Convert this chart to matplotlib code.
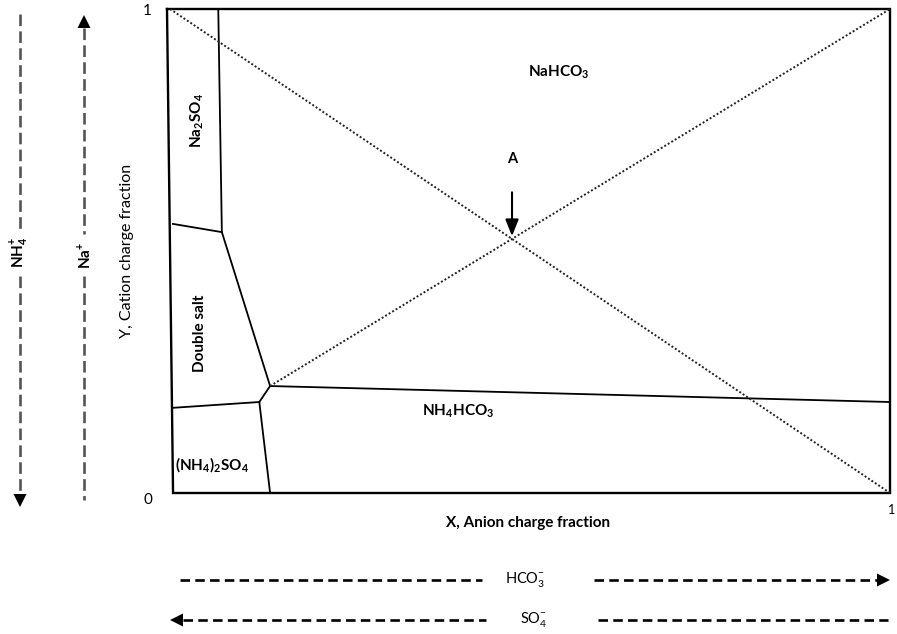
import matplotlib
matplotlib.use("Agg")
import matplotlib.pyplot as plt

plt.rcParams['font.family'] = ['Lato', 'DejaVu Sans']

# Phase boundary polylines (X = anion charge fraction, Y = cation charge fraction)
na2so4_x = [0.067, 0.072, 0.139]
na2so4_y = [1.000, 0.539, 0.221]
left_upper_x = [0.004, 0.072]
left_upper_y = [0.556, 0.539]
double_x = [0.139, 0.124, 0.139]
double_y = [0.221, 0.188, 0.000]
left_lower_x = [0.004, 0.124]
left_lower_y = [0.176, 0.188]
nh4hco3_x = [0.139, 1.000]
nh4hco3_y = [0.221, 0.188]
# Dotted operating lines
diag1_x = [0.0, 1.0]
diag1_y = [1.0, 0.0]
diag2_x = [0.139, 1.0]
diag2_y = [0.221, 1.0]
point_a = (0.475, 0.525)

fig = plt.figure(figsize=(8.97, 6.34), dpi=100)
W, H = 897, 634
ax = fig.add_axes([167 / W, 1 - 493 / H, (890 - 167) / W, (493 - 9) / H])
ax.set_xlim(-0.0042, 1.0)
ax.set_ylim(0, 1)
for s in ax.spines.values():
    s.set_visible(False)
ax.set_xticks([])
ax.set_yticks([])

# Frame
frame_x = [-0.0042, 1.0, 1.0, 0.0042, -0.0042]
frame_y = [1.0, 1.0, 0.0, 0.0, 1.0]
ax.plot(frame_x, frame_y, color='black', lw=1.7, clip_on=False, solid_joinstyle='miter')

lw = 1.3
for xs, ys in [(na2so4_x, na2so4_y), (left_upper_x, left_upper_y), (double_x, double_y),
               (left_lower_x, left_lower_y), (nh4hco3_x, nh4hco3_y)]:
    ax.plot(xs, ys, color='black', lw=lw, clip_on=False)

ax.plot(diag1_x, diag1_y, color='#222222', lw=1.4, ls=(0, (1, 1.1)))
ax.plot(diag2_x, diag2_y, color='#222222', lw=1.4, ls=(0, (1, 1.1)))

ax.annotate('', xy=point_a, xytext=(point_a[0], 0.627),
            arrowprops=dict(arrowstyle='-|>,head_width=0.4,head_length=1.0', color='black', lw=1.5))
ax.text(point_a[0], 0.69, 'A', ha='center', va='center', fontsize=10.5, fontweight='bold')

bold = dict(fontsize=11, fontweight='bold', ha='center', va='center')
ax.text(0.54, 0.87, 'NaHCO$_\\mathregular{3}$', **bold)
ax.text(0.037, 0.77, 'Na$_\\mathregular{2}$SO$_\\mathregular{4}$', rotation=90, **bold)
ax.text(0.042, 0.33, 'Double salt', rotation=90, **bold)
ax.text(0.059, 0.058, '(NH$_\\mathregular{4}$)$_\\mathregular{2}$SO$_\\mathregular{4}$', **bold)
ax.text(0.40, 0.17, 'NH$_\\mathregular{4}$HCO$_\\mathregular{3}$', **bold)

# Axis end labels
ax.text(-0.025, 0.995, '1', ha='right', va='center', fontsize=11)
ax.text(-0.025, -0.015, '0', ha='right', va='center', fontsize=11)
ax.text(0.997, -0.035, '1', ha='left', va='center', fontsize=9, clip_on=False)
ax.set_ylabel('Y, Cation charge fraction', fontsize=11.5)
ax.yaxis.set_label_coords(-0.045, 0.5)
ax.text(0.5, -0.062, 'X, Anion charge fraction', transform=ax.transAxes,
        ha='center', va='center', fontsize=11, fontweight='bold')

# Overlay for ion direction arrows (pixel space)
ov = fig.add_axes([0, 0, 1, 1])
ov.set_xlim(0, W)
ov.set_ylim(H, 0)
ov.axis('off')
hdash = (0, (3.6, 2.0))
vdash = (0, (4.4, 2.0))

def dline(x0, y0, x1, y1, ls, col):
    ov.plot([x0, x1], [y0, y1], color=col, lw=1.9, ls=ls, solid_capstyle='butt', dash_capstyle='butt')

def head(x, y, d, s=13):
    h = s / 2
    if d == 'down':
        xs, ys = [x - h, x + h, x], [y - s, y - s, y]
    elif d == 'up':
        xs, ys = [x - h, x + h, x], [y + s, y + s, y]
    elif d == 'right':
        xs, ys = [x - s, x - s, x], [y - h, y + h, y]
    else:
        xs, ys = [x + s, x + s, x], [y - h, y + h, y]
    ov.fill(xs, ys, color='black', lw=0)

vcol = '#555555'
# NH4+ (down)
dline(20, 14, 20, 230, vdash, vcol)
dline(20, 276, 20, 494, vdash, vcol)
head(20, 507, 'down')
ov.text(20, 252, 'NH$_\\mathregular{4}^\\mathregular{+}$', rotation=90, ha='center', va='center',
        fontsize=11, fontweight='bold')
# Na+ (up)
dline(84, 28, 84, 234, vdash, vcol)
dline(84, 276, 84, 500, vdash, vcol)
head(84, 15, 'up')
ov.text(84, 255, 'Na$^\\mathregular{+}$', rotation=90, ha='center', va='center',
        fontsize=11, fontweight='bold')

# HCO3- (right)
dline(180, 580, 482, 580, hdash, 'black')
dline(594, 580, 878, 580, hdash, 'black')
head(890, 580, 'right')
ov.text(525, 580, 'HCO$_\\mathregular{3}^\\mathregular{-}$', ha='center', va='center', fontsize=10.5)
# SO4- (left)
dline(183, 620, 486, 620, hdash, 'black')
dline(598, 620, 888, 620, hdash, 'black')
head(170, 620, 'left')
ov.text(534, 620, 'SO$_\\mathregular{4}^\\mathregular{-}$', ha='center', va='center', fontsize=10.5)

fig.savefig('out.png', dpi=100)
